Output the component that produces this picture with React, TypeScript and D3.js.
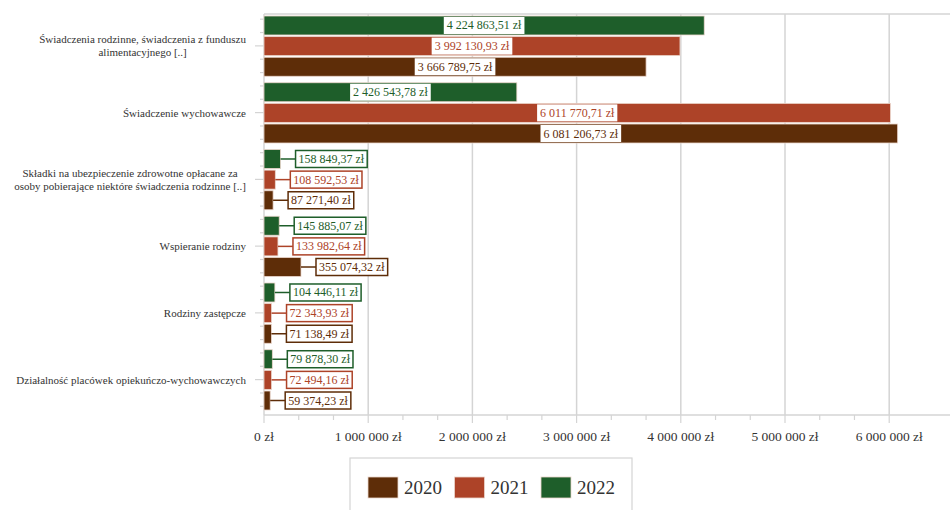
import React from 'react';
import * as d3 from 'd3';

const categories = [
  ['Świadczenia rodzinne, świadczenia z funduszu', 'alimentacyjnego [..]'],
  ['Świadczenie wychowawcze'],
  ['Składki na ubezpieczenie zdrowotne opłacane za', 'osoby pobierające niektóre świadczenia rodzinne [..]'],
  ['Wspieranie rodziny'],
  ['Rodziny zastępcze'],
  ['Działalność placówek opiekuńczo-wychowawczych'],
];
const years = ['2020', '2021', '2022'];
const values2020 = [3666789.75, 6081206.73, 87271.4, 355074.32, 71138.49, 59374.23];
const values2021 = [3992130.93, 6011770.71, 108592.53, 133982.64, 72343.93, 72494.16];
const values2022 = [4224863.51, 2426543.78, 158849.37, 145885.07, 104446.11, 79878.3];
const xTicks = [0, 1000000, 2000000, 3000000, 4000000, 5000000, 6000000];

const colors: Record<string, string> = { '2020': '#5e2d08', '2021': '#ad4328', '2022': '#1e5e2a' };
const FONT = '"Liberation Serif", "DejaVu Serif", serif';

const locale = d3.formatLocale({ decimal: ',', thousands: ' ', grouping: [3], currency: ['', ' zł'] });
const fmtVal = locale.format('$,.2f');
const fmtTick = locale.format('$,.0f');

const W = 950, H = 510;
const left = 264, top = 12.5, bottom = 413;

// text width helper so the category labels can be right aligned as centred blocks
const ctx = document.createElement('canvas').getContext('2d');
function textWidth(s: string, size: number) {
  if (!ctx) return s.length * size * 0.45;
  ctx.font = `${size}px "Liberation Serif"`;
  return ctx.measureText(s).width;
}

export default function App() {
  const x = d3.scaleLinear().domain([0, 6600000]).range([left, left + 6.6 * 104.2]);
  const y = d3.scaleBand<number>().domain(d3.range(categories.length)).range([top, bottom]);
  const inner = d3.scaleBand<string>().domain(['2022', '2021', '2020'])
    .range([3.5, y.bandwidth() - 3]).paddingInner(0.08);

  const series: Record<string, number[]> = { '2020': values2020, '2021': values2021, '2022': values2022 };
  const bw = y.bandwidth();

  // minor ticks on category axis, 5 per category, long one at the centre
  const catTicks: { y: number; major: boolean }[] = [];
  categories.forEach((_, i) => {
    const c = (y(i) as number) + bw / 2;
    for (let k = -2; k <= 2; k++) catTicks.push({ y: c + (k * bw) / 5, major: k === 0 });
  });
  const minorX = d3.range(0, 6.01, 1 / 3).map(v => v * 1e6);

  return (
    <svg width={W} height={H} style={{ position: 'absolute', left: 0, top: 0, background: '#fff' }}>
      {/* grid */}
      <line x1={left} x2={W} y1={14} y2={14} stroke="#d4d4d4" strokeWidth={1.5} />
      {xTicks.map(t => (
        <line key={t} x1={x(t)} x2={x(t)} y1={14} y2={415} stroke="#d4d4d4" strokeWidth={1.5} />
      ))}
      {/* axes */}
      <line x1={left} x2={W} y1={415} y2={415} stroke="#d4d4d4" strokeWidth={1.5} />
      {minorX.map((t, i) => (
        <line key={i} x1={x(t)} x2={x(t)} y1={415} y2={i % 3 === 0 ? 423 : 420} stroke="#d4d4d4" strokeWidth={1.2} />
      ))}
      {catTicks.map((t, i) => (
        <line key={i} x1={t.major ? 255 : 260} x2={left} y1={t.y} y2={t.y} stroke="#d4d4d4" strokeWidth={1.2} />
      ))}
      {xTicks.map(t => (
        <text key={t} x={x(t)} y={441} textAnchor="middle" fontFamily={FONT} fontSize={13.5} fill="#333">
          {fmtTick(t)}
        </text>
      ))}
      {/* category labels */}
      {categories.map((lines, i) => {
        const c = (y(i) as number) + bw / 2;
        const lh = 13;
        const maxW = Math.max(...lines.map(l => textWidth(l, 11)));
        const cx = 246 - maxW / 2;
        return (
          <text key={i} fontFamily={FONT} fontSize={11} fill="#333" textAnchor="middle">
            {lines.map((l, j) => (
              <tspan key={j} x={cx} y={c + 4 + (j - (lines.length - 1) / 2) * lh}>{l}</tspan>
            ))}
          </text>
        );
      })}
      {/* bars */}
      {categories.map((_, i) => (
        <g key={i} transform={`translate(0,${y(i)})`}>
          {years.map(yr => {
            const v = series[yr][i];
            const by = inner(yr) as number;
            const bh = inner.bandwidth();
            const x1 = x(v);
            const label = fmtVal(v);
            const boxW = textWidth(label, 12) + 6;
            const boxH = 17;
            const cy = by + bh / 2;
            const insideBar = x1 - left > 150;
            const bx = insideBar ? (left + x1) / 2 - boxW / 2 : x1 + 15;
            return (
              <g key={yr}>
                <rect x={left} y={by} width={x1 - left} height={bh} fill={colors[yr]} stroke="#ecd6cc" strokeWidth={0.8} />
                {!insideBar && (
                  <line x1={x1} x2={bx} y1={cy} y2={cy} stroke={colors[yr]} strokeWidth={1.5} />
                )}
                <rect x={bx} y={cy - boxH / 2} width={boxW} height={boxH} fill="#fff"
                  stroke={insideBar ? 'none' : colors[yr]} strokeWidth={1.5} />
                <text x={bx + boxW / 2} y={cy + 4} textAnchor="middle" fontFamily={FONT} fontSize={12} fill={colors[yr]}>
                  {label}
                </text>
              </g>
            );
          })}
        </g>
      ))}
      {/* legend */}
      <rect x={350} y={458} width={282} height={70} fill="#fff" stroke="#d4d4d4" strokeWidth={1.2} />
      {years.map((yr, i) => {
        const lx = 368 + i * 86.5;
        return (
          <g key={yr}>
            <rect x={lx} y={477} width={30} height={21} fill={colors[yr]} stroke="#ecd6cc" strokeWidth={0.8} />
            <text x={lx + 36} y={494} fontFamily={FONT} fontSize={19} fill="#333">{yr}</text>
          </g>
        );
      })}
    </svg>
  );
}
